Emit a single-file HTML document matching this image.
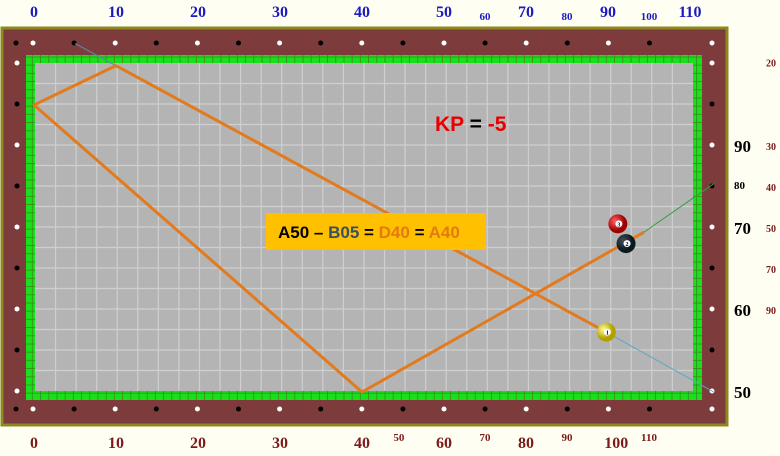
<!DOCTYPE html>
<html><head><meta charset="utf-8"><style>
body{margin:0;background:#fffef2;width:780px;height:456px;overflow:hidden;font-family:"Liberation Serif",serif}
svg{display:block}
</style></head><body>
<svg width="780" height="456">
<defs>
<pattern id="cush" width="8.2" height="8.2" patternUnits="userSpaceOnUse"><rect width="8.2" height="8.2" fill="#19e01a"/><rect x="7.4" width="0.8" height="8.2" fill="#3a8a20"/><rect y="7.4" width="8.2" height="0.8" fill="#3a8a20"/></pattern>
<radialGradient id="gy" cx="0.35" cy="0.35"><stop offset="0" stop-color="#ffff9a"/><stop offset="1" stop-color="#b0a000"/></radialGradient>
<radialGradient id="gr" cx="0.35" cy="0.35"><stop offset="0" stop-color="#ff6060"/><stop offset="1" stop-color="#a00000"/></radialGradient>
<radialGradient id="gb" cx="0.35" cy="0.35"><stop offset="0" stop-color="#40505a"/><stop offset="1" stop-color="#0a1820"/></radialGradient>
</defs>
<rect x="2" y="28" width="725" height="397" fill="#7d3b3b" stroke="#8a8a20" stroke-width="3"/>
<rect x="26" y="55" width="676" height="345" fill="url(#cush)"/>
<rect x="35" y="63" width="658" height="328" fill="#b4b4b4"/>
<g id="grid" stroke="#cfcfcf" stroke-width="1.2"></g>
<g id="diam"></g>
<g id="labels"></g>
<g id="paths"></g>
<g id="balls"></g>
<text x="435" y="131" font-family="Liberation Sans,sans-serif" font-weight="bold" font-size="21"><tspan fill="#e80000">KP</tspan><tspan fill="#000"> = </tspan><tspan fill="#e80000">-5</tspan></text>
<rect x="266" y="213" width="220" height="37" fill="#ffc000"/>
<text x="278" y="238" font-family="Liberation Sans,sans-serif" font-weight="bold" font-size="17"><tspan fill="#000">A50</tspan><tspan fill="#000"> – </tspan><tspan fill="#3a4f60">B05</tspan><tspan fill="#000"> = </tspan><tspan fill="#e47a10">D40</tspan><tspan fill="#000"> = </tspan><tspan fill="#e47a10">A40</tspan></text>
</svg>
<script>
const NS="http://www.w3.org/2000/svg";
const topLabels=["0","10","20","30","40","50","60","70","80","90","100","110"];
const topLabelX=[0,10,20,30,40,50,55,60,65,70,75,80];
const bottomLabels=["0","10","20","30","40","50","60","70","80","90","100","110"];
const bottomLabelX=[0,10,20,30,40,44.5,50,55,60,65,71,75];
const rightBig=["90","70","60","50"];
const rightBigY=[30,20,10,0];
const rightSmall=["20","30","40","50","70","90"];
const rightSmallY=[40.2,30,25,20,15,10];
const cuePath=[[69.8,7.3],[10,39.8],[0,35],[40,0],[74.4,19.5]];
const objLine=[[74.4,19.5],[82.9,25.4]];
const cueAim=[[69.8,7.3],[82.9,0]];
const topAim=[[5,42.5],[10,39.8]];
const ballX=[69.8,72.2,71.2];const ballY=[7.3,18.1,20.5];const ballNum=["1","2","3"];
const sx=u=>34+u*8.2, sy=v=>392-v*8.2;
function mk(tag,attrs,parent,name){const e=document.createElementNS(NS,tag);for(const k in attrs)e.setAttribute(k,attrs[k]);document.getElementById(parent).appendChild(e);


return e;}
for(let i=1;i<32;i++)mk('line',{x1:35+i*20.56,x2:35+i*20.56,y1:63,y2:391},'grid','grid-line');
for(let i=1;i<16;i++)mk('line',{y1:63+i*20.5,y2:63+i*20.5,x1:35,x2:693},'grid','grid-line');
for(let i=0;i<=17;i++){const x=16+i*41.1;const c=(i%2==0)?'#000':'#fff';const x2=i==0?16:(i==17?712:33+(i-1)*41.1);
mk('circle',{cx:x2,cy:43,r:2.5,fill:i==0||i%2==0?'#000':'#fff'},'diam','diamond');
mk('circle',{cx:x2,cy:409,r:2.5,fill:i==0||i%2==0?'#000':'#fff'},'diam','diamond');}
for(let i=0;i<9;i++){const y=63+i*41;const f=i%2==0?'#fff':'#000';
mk('circle',{cx:17,cy:y,r:2.5,fill:f},'diam','diamond');
mk('circle',{cx:712,cy:y,r:2.5,fill:f},'diam','diamond');}
topLabels.forEach((t,i)=>{const small=i==6||i==8||i==10;const e=mk('text',{x:sx(topLabelX[i]),y:small?20:17,'text-anchor':'middle','font-weight':'bold','font-size':small?11:16,fill:'#1a1ac0'},'labels','top-label');e.textContent=t;});
bottomLabels.forEach((t,i)=>{const small=i==5||i==7||i==9||i==11;const e=mk('text',{x:sx(bottomLabelX[i]),y:small?441:448,'text-anchor':'middle','font-weight':'bold','font-size':small?11:16,fill:'#7a1a1a'},'labels','bottom-label');e.textContent=t;});
rightBig.forEach((t,i)=>{const e=mk('text',{x:734,y:sy(rightBigY[i])+6,'font-weight':'bold','font-size':17,fill:'#000'},'labels','right-label');e.textContent=t;});
{const e=mk('text',{x:734,y:189,'font-weight':'bold','font-size':11,fill:'#000'},'labels','right-label');e.textContent="80";}
rightSmall.forEach((t,i)=>{const e=mk('text',{x:766,y:sy(rightSmallY[i])+4,'font-weight':'bold','font-size':10,fill:'#7a1a1a'},'labels','right-small-label');e.textContent=t;});
function pl(pts,stroke,w,name){mk('polyline',{points:pts.map(p=>sx(p[0])+','+sy(p[1])).join(' '),fill:'none',stroke:stroke,'stroke-width':w,'stroke-linejoin':'round'},'paths',name);}
pl(topAim,'#5a8aa8',1,'aim-line');
pl(cueAim,'#5aa8c8',1,'cue-aim-line');
pl(objLine,'#30a040',1,'object-line');
pl(cuePath,'#e27a1e',3,'cue-ball-path');
const fills=['url(#gy)','url(#gb)','url(#gr)'];
ballX.forEach((x,i)=>{mk('circle',{cx:sx(x),cy:sy(ballY[i]),r:9.5,fill:fills[i]},'balls','ball-'+ballNum[i]);
mk('circle',{cx:sx(x)+1,cy:sy(ballY[i]),r:3.5,fill:'#fff'},'balls','ball-number-spot');
const t=mk('text',{x:sx(x)+1,y:sy(ballY[i])+2.5,'text-anchor':'middle','font-size':6,'font-weight':'bold',fill:'#000'},'balls','ball-number');t.textContent=ballNum[i];});
</script>
</body></html>
